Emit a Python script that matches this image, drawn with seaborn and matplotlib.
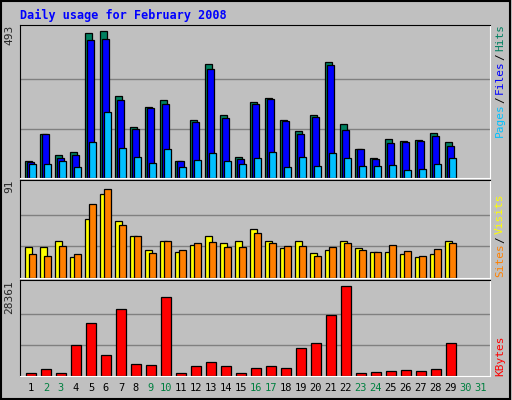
import matplotlib
matplotlib.use("Agg")
import matplotlib.pyplot as plt
import numpy as np
import seaborn as sns

days = [str(d) for d in range(1, 32)]
weekend = [2, 3, 9, 10, 16, 17, 23, 24, 30, 31]
hits = [58, 148, 78, 88, 482, 489, 274, 171, 238, 261, 58, 194, 381, 211, 71,
        255, 268, 194, 158, 211, 387, 181, 98, 68, 131, 124, 128, 151, 121]
files = [53, 148, 68, 78, 461, 464, 261, 164, 234, 248, 58, 188, 364, 201, 64,
         248, 264, 191, 148, 204, 377, 161, 98, 64, 118, 121, 124, 141, 108]
pages = [48, 48, 58, 38, 121, 221, 101, 71, 51, 98, 38, 61, 84, 58, 48,
         68, 88, 38, 71, 41, 84, 68, 41, 41, 44, 28, 31, 48, 68]
visits = [30, 30, 36, 20, 57, 81, 55, 40, 27, 36, 25, 32, 40, 34, 36,
          47, 36, 29, 36, 24, 27, 36, 29, 25, 25, 23, 20, 23, 36]
sites = [23, 21, 31, 23, 71, 86, 51, 40, 24, 36, 27, 34, 35, 30, 30,
         43, 34, 31, 31, 21, 30, 34, 27, 25, 32, 26, 21, 28, 34]
kbytes = [1006, 2213, 1006, 9456, 16096, 6438, 20623, 3722, 3420, 24245, 1006,
          3119, 4326, 3119, 1006, 2515, 3119, 2515, 8551, 10060, 18510, 27564,
          1006, 1308, 1610, 1911, 1610, 2213, 10060]
max_hits, max_visits, max_kb = 493, 91, 28361

sns.set_style("white")
plt.rcParams["font.family"] = ["DejaVu Sans Mono", "DejaVu Sans"]
bg = "#c0c0c0"
fig = plt.figure(figsize=(5.12, 4.0), dpi=100, facecolor=bg)
fig.patches.append(plt.Rectangle((0.002, 0.003), 0.995, 0.994, transform=fig.transFigure,
                                 fill=False, edgecolor="black", lw=1.5))

W, H = 512, 400
def mkax(top, bottom):
    return fig.add_axes([20 / W, 1 - bottom / H, 470 / W, (bottom - top) / H])

x = np.arange(len(hits))
ax1 = mkax(25, 178)
ax2 = mkax(180, 278)
ax3 = mkax(280, 376)

kw = dict(align="edge", edgecolor="black", linewidth=0.9)
ax1.bar(x, hits, width=0.47, color="#008060", **kw)
ax1.bar(x + 0.13, files, width=0.47, color="#0000ff", **kw)
ax1.bar(x + 0.27, pages, width=0.47, color="#00c0ff", **kw)
ax2.bar(x, visits, width=0.47, color="#ffff00", **kw)
ax2.bar(x + 0.27, sites, width=0.47, color="#ff8000", **kw)
ax3.bar(x + 0.05, kbytes, width=0.68, color="#ff0000", **kw)

for ax, mx, lab in [(ax1, max_hits, "493"), (ax2, max_visits, "91"), (ax3, max_kb, "28361")]:
    ax.set_facecolor(bg)
    ax.set_xlim(-0.33, 31)
    ax.set_ylim(0, mx * 1.035)
    for g in (mx / 3, 2 * mx / 3):
        ax.axhline(g, color="#808080", lw=1, zorder=0)
    ax.set_xticks([])
    ax.set_yticks([])
    for s in ("left", "top"):
        ax.spines[s].set_color("black")
    for s in ("right", "bottom"):
        ax.spines[s].set_color("white")
    ax.text(-0.012, 1.0, lab, transform=ax.transAxes, rotation=90, ha="right",
            va="top", fontsize=8)

fig.text(20 / W, 1 - 15 / H, "Daily usage for February 2008", color="#0000ff",
         fontsize=8.5, fontweight="bold", va="center")

for i, d in enumerate(days):
    xd = (20 + (i + 0.33 + 0.4) * 15.0) / W
    fig.text(xd, 1 - 388 / H, d, ha="center", va="center", fontsize=7.5,
             color="#008040" if int(d) in weekend else "black")

def side(y, parts):
    # stack rotated words upward from y (pixels)
    yy = y
    for word, col in parts:
        fig.text(500 / W, 1 - yy / H, word, rotation=90, ha="center",
                 va="bottom", color=col, fontsize=8)
        yy -= len(word) * 6.2 + 3

side(137, [("Pages", "#00c0ff"), ("/", "black"), ("Files", "#0000ff"), ("/", "black"), ("Hits", "#008060")])
side(277, [("Sites", "#ff8000"), ("/", "black"), ("Visits", "#ffff00")])
side(376, [("KBytes", "#ff0000")])

fig.savefig("out.png", dpi=100, facecolor=bg)
